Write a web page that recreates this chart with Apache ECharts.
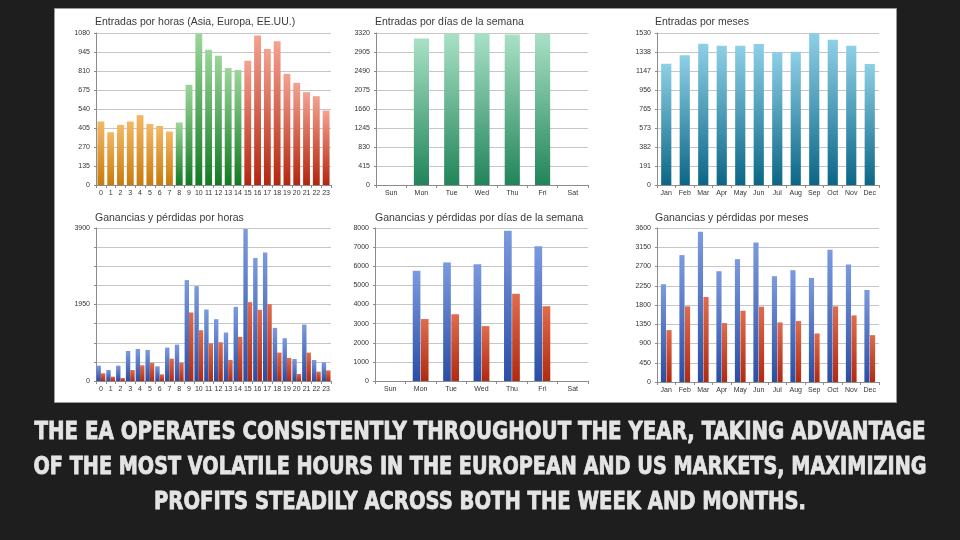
<!DOCTYPE html>
<html><head><meta charset="utf-8">
<script src="https://cdn.jsdelivr.net/npm/echarts@6/dist/echarts.min.js"></script>
<style>html,body{margin:0;padding:0;background:#1e1e1e}#c{width:960px;height:540px}</style>
</head><body><div id="c"></div>
<script>
// ---------- data ----------
const hourLabels = ['0','1','2','3','4','5','6','7','8','9','10','11','12','13','14','15','16','17','18','19','20','21','22','23'];
const hourSession = ['Asia','Asia','Asia','Asia','Asia','Asia','Asia','Asia','Europa','Europa','Europa','Europa','Europa','Europa','Europa','EEUU','EEUU','EEUU','EEUU','EEUU','EEUU','EEUU','EEUU','EEUU'];
const hourEntries = [451,375,427,451,496,434,420,380,444,712,1075,961,919,831,817,883,1063,966,1021,790,726,660,631,529];
const dayLabels = ['Sun','Mon','Tue','Wed','Thu','Fri','Sat'];
const dayEntries = [0,3200,3310,3315,3285,3305,0];
const monthLabels = ['Jan','Feb','Mar','Apr','May','Jun','Jul','Aug','Sep','Oct','Nov','Dec'];
const monthEntries = [1221,1305,1422,1402,1402,1419,1338,1342,1528,1463,1402,1217];
const hourGains  = [392,281,392,766,817,792,375,852,928,2572,2418,1822,1575,1235,1890,3874,3134,3278,1354,1090,562,1439,536,477];
const hourLosses = [196,111,77,281,400,460,170,570,468,1746,1294,962,988,536,1124,2010,1814,1959,724,588,179,724,238,272];
const dayGains  = [0,5760,6200,6110,7850,7040,0];
const dayLosses = [0,3240,3490,2870,4560,3910,0];
const monthGains  = [2285,2966,3514,2590,2872,3263,2473,2614,2434,3091,2747,2152];
const monthLosses = [1213,1769,1988,1377,1667,1761,1393,1424,1135,1769,1557,1096];
const titles = ['Entradas por horas (Asia, Europa, EE.UU.)','Entradas por días de la semana','Entradas por meses',
  'Ganancias y pérdidas por horas','Ganancias y pérdidas por días de la semana','Ganancias y pérdidas por meses'];
const caption = ['THE EA OPERATES CONSISTENTLY THROUGHOUT THE YEAR, TAKING ADVANTAGE',
  'OF THE MOST VOLATILE HOURS IN THE EUROPEAN AND US MARKETS, MAXIMIZING',
  'PROFITS STEADILY ACROSS BOTH THE WEEK AND MONTHS.'];

// ---------- styling ----------
const chart = echarts.init(document.getElementById('c'));
const AX = '#8c8c8c', SPL = '#c6c6c6', TXT = '#333333', FONT = "'Liberation Sans', Arial, sans-serif";
function grad(t, b){ return new echarts.graphic.LinearGradient(0,0,0,1,[{offset:0,color:t},{offset:1,color:b}]); }
const sessionColor = {Asia: grad('#f3b865','#c97b0c'), Europa: grad('#9bd69b','#137a22'), EEUU: grad('#f4a290','#b3260f')};
const blue = grad('#7c9ade','#2a4ea6'), red = grad('#e06c4c','#b02a12');

const gridBoxes = [
  {left:96, top:33, width:235, height:152},
  {left:376, top:33, width:212, height:152},
  {left:657, top:33, width:222, height:152},
  {left:96, top:228, width:235, height:153},
  {left:375, top:228, width:213, height:153},
  {left:657, top:228, width:222, height:154}
];
const titlePos = [[95,17],[375,17],[655,17],[95,213],[375,213],[655,213]];

function xAx(i, data){
  return {type:'category', gridIndex:i, data:data,
    axisLine:{lineStyle:{color:AX}}, axisTick:{show:true, length:3, lineStyle:{color:AX}},
    axisLabel:{color:TXT, fontSize:7, fontFamily:FONT, interval:0, margin:5}};
}
function yAx(i, max, interval, fmt){
  return {type:'value', gridIndex:i, min:0, max:max, interval:interval,
    axisLine:{show:true, lineStyle:{color:AX}}, axisTick:{show:true, length:2, lineStyle:{color:AX}},
    splitLine:{lineStyle:{color:SPL}},
    axisLabel:{color:TXT, fontSize:7, fontFamily:FONT, margin:6, formatter:fmt || (v=>String(v))}};
}

const graphics = [
  {type:'rect', left:54, top:8, shape:{width:842, height:394}, style:{fill:'#ffffff', stroke:'#9a9a9a', lineWidth:1}, z:-10}
];
// caption
const mc = document.createElement('canvas').getContext('2d');
const capFont = "bold 25px 'Liberation Sans Narrow','DejaVu Sans Condensed','Liberation Sans',sans-serif";
mc.font = capFont;
const capW = [891, 893, 652];
const capY = [432, 467, 502];
caption.forEach((t, k) => {
  const sx = capW[k] / mc.measureText(t).width;
  graphics.push({type:'text', x:480, y:capY[k], scaleX:sx, scaleY:1.0, originX:0, originY:0,
    style:{text:t, font:capFont, fill:'#e4e4e4', stroke:'#e4e4e4', lineWidth:0.8, textAlign:'center', textVerticalAlign:'middle'}});
});

const option = {
  animation:false,
  backgroundColor:'#1e1e1e',
  title: titles.map((t,i)=>({text:t, left:titlePos[i][0], top:titlePos[i][1], padding:0,
    textStyle:{fontSize:10.5, fontWeight:'normal', color:'#3a3a3a', fontFamily:FONT}})),
  grid: gridBoxes,
  xAxis:[xAx(0,hourLabels), xAx(1,dayLabels), xAx(2,monthLabels), xAx(3,hourLabels), xAx(4,dayLabels), xAx(5,monthLabels)],
  yAxis:[
    yAx(0,1080,135),
    yAx(1,3320,415),
    yAx(2,1530,191.25, v=>String(Math.floor(v))),
    yAx(3,3900,487.5, v=>(v%1950===0?String(v):'')),
    yAx(4,8000,1000),
    yAx(5,3600,450)
  ],
  series:[
    {type:'bar', xAxisIndex:0, yAxisIndex:0, data:hourEntries, barWidth:'70%',
      itemStyle:{color:p=>sessionColor[hourSession[p.dataIndex]]}},
    {type:'bar', xAxisIndex:1, yAxisIndex:1, data:dayEntries, barWidth:'50%',
      itemStyle:{color:grad('#a9e1c6','#21845a')}},
    {type:'bar', xAxisIndex:2, yAxisIndex:2, data:monthEntries, barWidth:'55%',
      itemStyle:{color:grad('#8ed0e6','#0b6686')}},
    {type:'bar', xAxisIndex:3, yAxisIndex:3, data:hourGains, barGap:'0%', barCategoryGap:'10%', itemStyle:{color:blue}},
    {type:'bar', xAxisIndex:3, yAxisIndex:3, data:hourLosses, barGap:'0%', barCategoryGap:'10%', itemStyle:{color:red}},
    {type:'bar', xAxisIndex:4, yAxisIndex:4, data:dayGains, barGap:'6%', barCategoryGap:'48%', itemStyle:{color:blue}},
    {type:'bar', xAxisIndex:4, yAxisIndex:4, data:dayLosses, barGap:'6%', barCategoryGap:'48%', itemStyle:{color:red}},
    {type:'bar', xAxisIndex:5, yAxisIndex:5, data:monthGains, barGap:'8%', barCategoryGap:'42%', itemStyle:{color:blue}},
    {type:'bar', xAxisIndex:5, yAxisIndex:5, data:monthLosses, barGap:'8%', barCategoryGap:'42%', itemStyle:{color:red}}
  ],
  graphic: graphics
};
chart.setOption(option);
</script></body></html>
